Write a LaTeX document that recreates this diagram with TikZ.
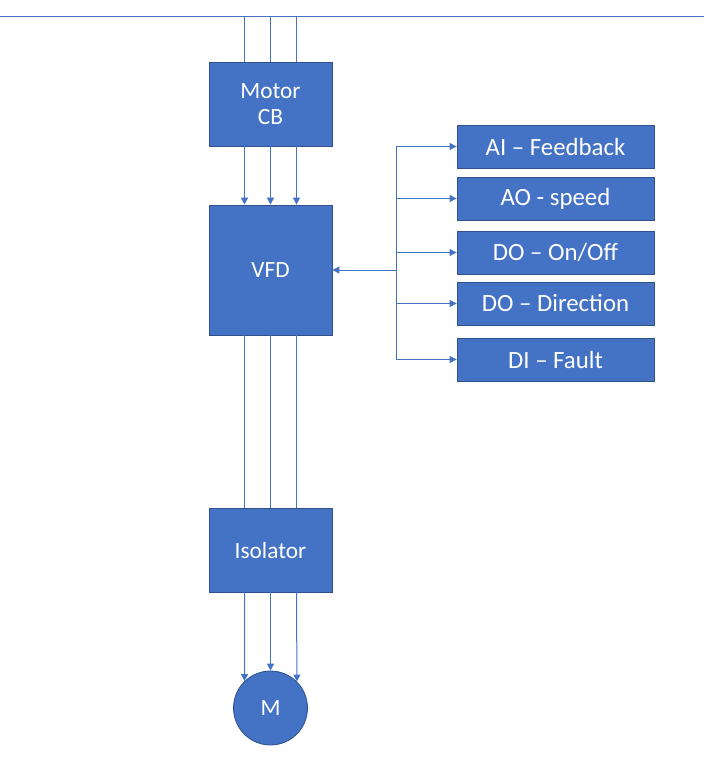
\documentclass[tikz,border=0pt]{standalone}
\usepackage{fontspec}
\setmainfont{Carlito}
\usetikzlibrary{arrows.meta}
\definecolor{boxfill}{HTML}{4472C4}
\definecolor{boxline}{HTML}{2F528F}
\definecolor{wire}{HTML}{4472C4}
\begin{document}
\begin{tikzpicture}[x=1pt,y=-1pt,
  blk/.style={draw=boxline,fill=boxfill,line width=0.8pt,text=white,align=center,
    font=\fontsize{23.3}{26.7}\selectfont,inner sep=0pt},
  bigbox/.style={blk,minimum width=123pt},
  sigbox/.style={blk,minimum width=197pt,minimum height=43pt,font=\fontsize{24.8}{28}\selectfont},
  wireline/.style={draw=wire,line width=1pt},
  arr/.style={wireline,-{Triangle[length=7pt,width=7pt]}}]
\useasboundingbox (0,0) rectangle (704,760);
\coordinate (tl) at (0,17);
\coordinate (tr) at (704,17);
\draw[wireline] (tl) -- (tr);
\node[bigbox,minimum height=84pt] (mcb) at (270.5,104) {Motor\\CB};
\node[bigbox,minimum height=130pt] (vfd) at (270.5,270) {VFD};
\node[bigbox,minimum height=84pt] (iso) at (270.5,550) {Isolator};
\node[blk,circle,minimum size=74pt] (m) at (270.5,708) {M};
\node[sigbox] (ai) at (555.5,146.5) {AI – Feedback};
\node[sigbox] (ao) at (555.5,198.5) {AO - speed};
\node[sigbox] (doo) at (555.5,252.5) {DO – On/Off};
\node[sigbox] (dod) at (555.5,303.5) {DO – Direction};
\node[sigbox] (di) at (555.5,359.5) {DI – Fault};
\foreach \dx in {-26,0,26}{
  \draw[wireline] ([xshift=\dx pt]mcb.north) -- ([xshift=\dx pt]mcb.north |- tl);
  \draw[arr] ([xshift=\dx pt]mcb.south) -- ([xshift=\dx pt]vfd.north);
  \draw[wireline] ([xshift=\dx pt]vfd.south) -- ([xshift=\dx pt]iso.north);
}
\draw[arr] ([xshift=-26pt]iso.south) -- (m.134.6);
\draw[arr] (iso.south) -- (m.north);
\draw[arr] ([xshift=26pt]iso.south) -- (m.45.4);
\coordinate (bus) at (396,270);
\draw[arr] (bus) -- (vfd.east);
\draw[wireline] (bus |- ai.west) -- (bus |- di.west);
\foreach \s in {ai,ao,doo,dod,di}{
  \draw[arr] (bus |- \s.west) -- (\s.west);
}
\end{tikzpicture}
\end{document}
